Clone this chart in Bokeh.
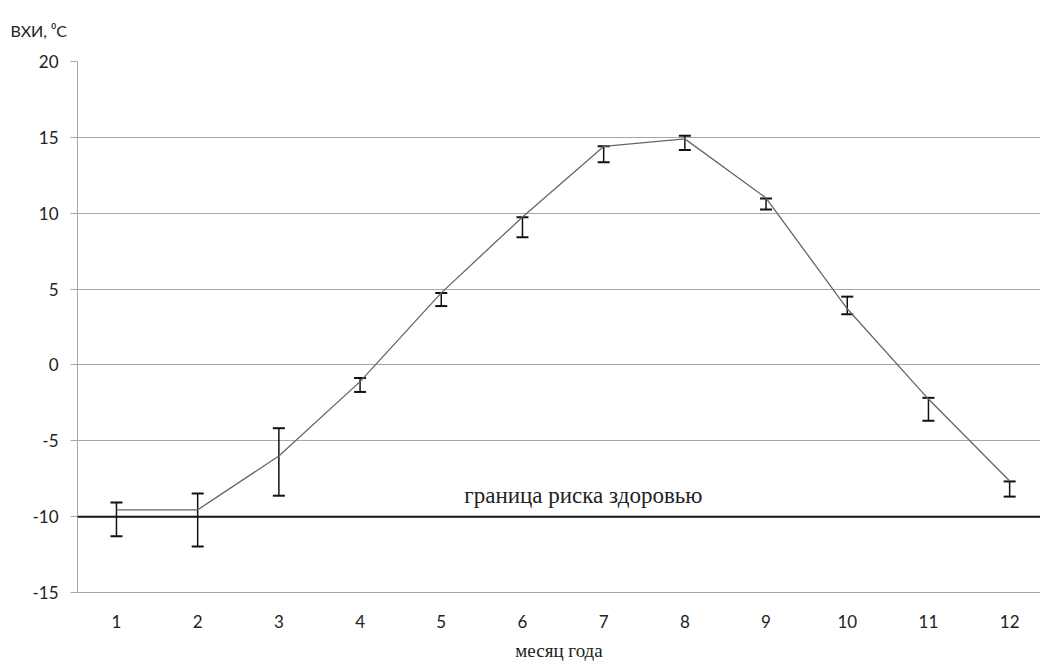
from bokeh.plotting import figure
from bokeh.models import ColumnDataSource, Whisker, Span, Label, FixedTicker, TeeHead, PrintfTickFormatter
from bokeh.embed import file_html
from bokeh.resources import INLINE

months = [1, 2, 3, 4, 5, 6, 7, 8, 9, 10, 11, 12]
vhi = [-9.55, -9.55, -6.0, -1.1, 4.75, 9.75, 14.4, 14.9, 11.0, 3.7, -2.25, -7.65]
err_upper = [-9.07, -8.47, -4.17, -0.86, 4.74, 9.74, 14.41, 15.11, 10.97, 4.5, -2.17, -7.68]
err_lower = [-11.3, -11.97, -8.62, -1.78, 3.88, 8.42, 13.36, 14.17, 10.24, 3.34, -3.68, -8.68]
y_ticks = [-15, -10, -5, 0, 5, 10, 15, 20]
risk_level = -10
risk_label = "граница риска здоровью"
x_title = "месяц года"
y_title = "ВХИ, ⁰С"

src = ColumnDataSource(dict(x=months, y=vhi, upper=err_upper, lower=err_lower))

p = figure(width=1040, height=666, x_range=(0.52, 12.38), y_range=(-15, 20),
           output_backend="svg", toolbar_location=None,
           min_border_left=77, min_border_right=0, min_border_top=60, min_border_bottom=74,
           title=y_title)
p.outline_line_color = None
p.background_fill_color = "white"
p.border_fill_color = "white"

p.title.align = "left"
p.title.vertical_align = "top"
p.title.offset = -67
p.title.text_font = "Lato"
p.title.text_font_size = "16px"
p.title.text_font_style = "normal"
p.title.text_color = "#222222"
p.title.standoff = 40

# grid
p.xgrid.visible = False
p.ygrid.ticker = FixedTicker(ticks=y_ticks)
p.ygrid.grid_line_color = "#a6a6a6"
p.ygrid.grid_line_width = 1

# y axis
p.yaxis.ticker = FixedTicker(ticks=y_ticks)
p.yaxis.formatter = PrintfTickFormatter(format="%d")
p.yaxis.axis_line_color = "#a6a6a6"
p.yaxis.major_tick_line_color = "#a6a6a6"
p.yaxis.major_tick_out = 7
p.yaxis.major_tick_in = 0
p.yaxis.minor_tick_line_color = None
p.yaxis.major_label_text_font = "Lato"
p.yaxis.major_label_text_font_size = "17px"
p.yaxis.major_label_text_color = "#222222"
p.yaxis.major_label_standoff = 12

# x axis
p.xaxis.ticker = FixedTicker(ticks=months)
p.xaxis.axis_line_color = "#a6a6a6"
p.xaxis.major_tick_line_color = None
p.xaxis.minor_tick_line_color = None
p.xaxis.major_label_text_font = "Lato"
p.xaxis.major_label_text_font_size = "17px"
p.xaxis.major_label_text_color = "#222222"
p.xaxis.major_label_standoff = 16
p.xaxis.axis_label = x_title
p.xaxis.axis_label_text_font = "Liberation Serif"
p.xaxis.axis_label_text_font_size = "19px"
p.xaxis.axis_label_text_font_style = "normal"
p.xaxis.axis_label_text_color = "#222222"
p.xaxis.axis_label_standoff = 9

# risk threshold
p.add_layout(Span(location=risk_level, dimension="width", line_color="#111111", line_width=2))
p.add_layout(Label(x=6.75, y=risk_level + 1.38, text=risk_label, text_align="center",
                   text_baseline="middle", text_font="Liberation Serif",
                   text_font_size="23px", text_color="#222222"))

# line
p.line("x", "y", source=src, line_color="#666666", line_width=1.3)

# error bars
w = Whisker(source=src, base="x", upper="upper", lower="lower",
            line_color="#111111", line_width=1.5,
            upper_head=TeeHead(size=12, line_color="#111111", line_width=2),
            lower_head=TeeHead(size=12, line_color="#111111", line_width=2))
p.add_layout(w)

open("out.html", "w").write(file_html(p, INLINE))
